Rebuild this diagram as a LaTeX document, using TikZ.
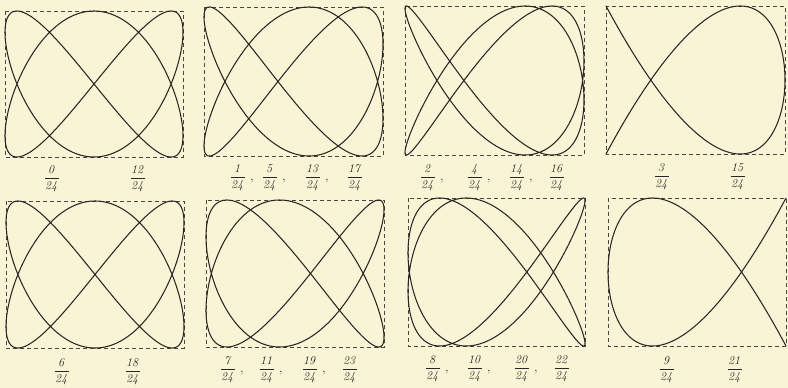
\documentclass[tikz,border=0pt]{standalone}
\usepackage{amsmath}
\definecolor{paper}{RGB}{249,244,214}
\definecolor{ink}{RGB}{40,38,34}
\tikzset{
  frame/.style={draw=ink!85, line width=0.75pt, dash pattern=on 4pt off 3pt},
  curve/.style={draw=ink, line width=1.05pt, line join=round},
  lab/.style={inner sep=0pt, text=ink, font=\fontsize{13}{15}\selectfont}
}
\newcommand{\pfr}[1]{$\dfrac{\mathit{#1}}{\mathit{24}}$}
\newcommand{\pfrc}[1]{$\dfrac{\mathit{#1}}{\mathit{24}}$\rlap{\hspace{4pt},}}
% cx, cy, half width, half height, phase (deg)
\newcommand{\lissa}[5]{%
  \draw[frame] ({#1-#3},{#2-#4}) rectangle ({#1+#3},{#2+#4});
  \draw[curve] plot[domain=0:360, samples=481, variable=\t]
    ({#1+#3*cos(2*\t+#5)}, {#2+#4*cos(3*\t)});
}
\begin{document}
\begin{tikzpicture}[x=1pt, y=-1pt]
  \fill[paper] (0,0) rectangle (788,388);
  \useasboundingbox (0,0) rectangle (788,388);
  % top row
  \lissa{94}{84}{89}{73}{30}
  \lissa{293.5}{81.5}{89.5}{74.5}{40}
  \lissa{494.5}{80.5}{89.5}{74.5}{50}
  \lissa{695.5}{80}{89.5}{74}{60}
  % bottom row
  \lissa{95}{274.5}{89}{73.5}{90}
  \lissa{295}{273.5}{89}{73.5}{100}
  \lissa{496.5}{272}{88.5}{74}{110}
  \lissa{697}{272}{89}{74}{120}
  % labels top row
  \node[lab] (a1) at (52,179) {\pfr{0}};
  \node[lab] (a2) at (138,179) {\pfr{12}};
  \node[lab] (b1) at (238,178) {\pfrc{1}};
  \node[lab] (b2) at (270,178) {\pfrc{5}};
  \node[lab] (b3) at (313,178) {\pfrc{13}};
  \node[lab] (b4) at (355,178) {\pfr{17}};
  \node[lab] (c1) at (428,178) {\pfrc{2}};
  \node[lab] (c2) at (475,178) {\pfrc{4}};
  \node[lab] (c3) at (517,178) {\pfrc{14}};
  \node[lab] (c4) at (557,178) {\pfr{16}};
  \node[lab] (d1) at (662,177) {\pfr{3}};
  \node[lab] (d2) at (738,177) {\pfr{15}};
  % labels bottom row
  \node[lab] (e1) at (62,372) {\pfr{6}};
  \node[lab] (e2) at (133,372) {\pfr{18}};
  \node[lab] (f1) at (228,370) {\pfrc{7}};
  \node[lab] (f2) at (267,370) {\pfrc{11}};
  \node[lab] (f3) at (310,370) {\pfrc{19}};
  \node[lab] (f4) at (350,370) {\pfr{23}};
  \node[lab] (g1) at (433,369) {\pfrc{8}};
  \node[lab] (g2) at (475,369) {\pfrc{10}};
  \node[lab] (g3) at (522,369) {\pfrc{20}};
  \node[lab] (g4) at (562,369) {\pfr{22}};
  \node[lab] (h1) at (667,370) {\pfr{9}};
  \node[lab] (h2) at (735,370) {\pfr{21}};
\end{tikzpicture}
\end{document}
